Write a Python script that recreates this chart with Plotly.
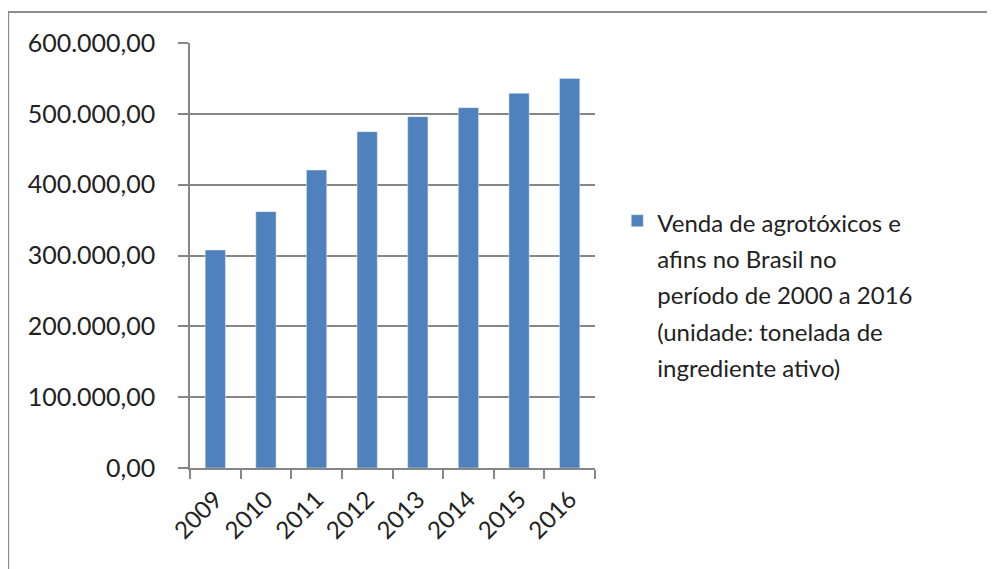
import plotly.graph_objects as go

anos = ["2009", "2010", "2011", "2012", "2013", "2014", "2015", "2016"]
vendas = [307800, 361900, 420700, 474800, 496000, 508700, 529000, 550000]
linhas_legenda = ["Venda de agrotóxicos e", "afins no Brasil no",
                  "período de 2000 a 2016", "(unidade: tonelada de",
                  "ingrediente ativo)"]

y_ticks = [0, 100000, 200000, 300000, 400000, 500000, 600000]

FONTE = "Lato, 'Open Sans', sans-serif"
CINZA = "#868686"

# espaçamento entre linhas maior que o padrão do plotly: fonte do texto
# da legenda maior, mas cada linha desenhada num span de 24px
nome_serie = "<br>".join(f'<span style="font-size:24px">{t}</span>'
                         for t in linhas_legenda)

fig = go.Figure()
fig.add_trace(go.Bar(x=anos, y=vendas, name=nome_serie, marker_color="#4f81bd",
                     showlegend=True))

# a página tem margem de 8px no body, por isso l/t descontam 8
fig.update_layout(
    width=995, height=569,
    margin=dict(l=182, r=408, t=35, b=109),
    paper_bgcolor="white", plot_bgcolor="white",
    separators=",.",
    bargap=0.6,
    font=dict(family=FONTE, size=24, color="#222"),
    legend=dict(x=1.055, y=0.64, xanchor="left", yanchor="top", valign="top",
                font=dict(size=28), tracegroupgap=0, bgcolor="rgba(0,0,0,0)"),
)
fig.update_yaxes(range=[0, 600000], tickvals=y_ticks, tickformat=",.2f",
                 showgrid=True, gridcolor=CINZA, gridwidth=1.5,
                 showline=True, linecolor=CINZA, linewidth=1.5,
                 ticks="outside", ticklen=10, tickcolor=CINZA, tickwidth=1.5,
                 ticklabelstandoff=18, zeroline=False,
                 tickfont=dict(size=25))
fig.update_xaxes(tickangle=-45, showline=True, linecolor=CINZA, linewidth=1.5,
                 ticks="outside", tickson="boundaries", ticklen=9,
                 tickcolor=CINZA, tickwidth=1.5, showgrid=False,
                 ticklabelstandoff=6)

# moldura do gráfico
fig.add_shape(type="rect", xref="paper", yref="paper",
              x0=-0.449, x1=2.0, y0=-0.26, y1=1.073,
              line=dict(color="#8c8c8c", width=2), fillcolor="rgba(0,0,0,0)",
              layer="below")

fig.write_html("out.html")
